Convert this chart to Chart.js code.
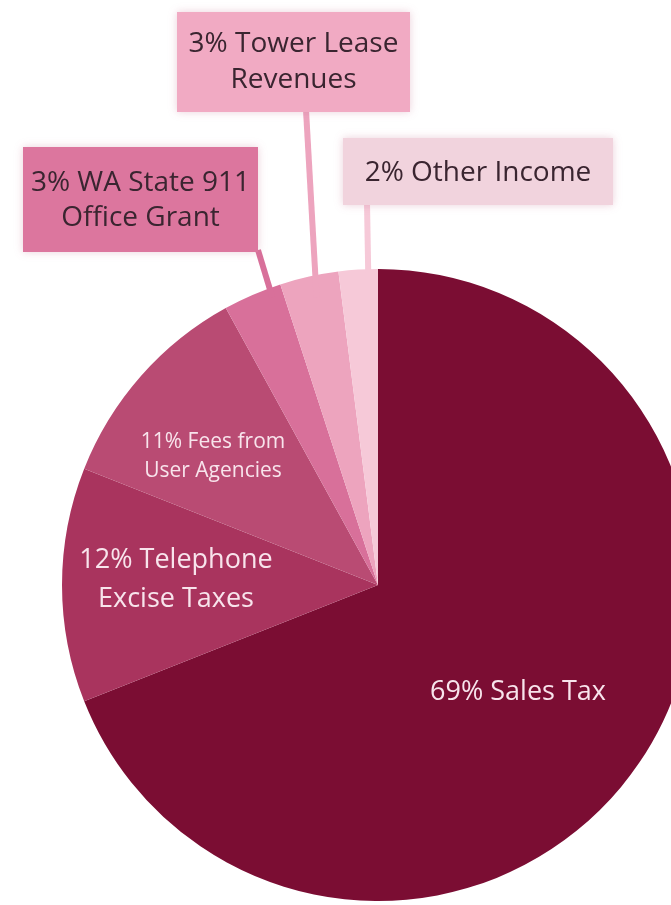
<!DOCTYPE html>
<html>
<head>
<meta charset="utf-8">
<script src="https://cdn.jsdelivr.net/npm/chart.js@4/dist/chart.umd.min.js"></script>
<style>
  html, body { margin: 0; padding: 0; background: #ffffff; overflow: hidden; width: 671px; height: 905px; }
  #wrap { position: absolute; left: 0; top: 0; width: 760px; height: 905px; }
</style>
</head>
<body>
<div id="wrap"><canvas id="c" width="760" height="905"></canvas></div>
<script>
// Revenue sources, clockwise from 12 o'clock
const categories = ['Sales Tax', 'Telephone Excise Taxes', 'Fees from User Agencies',
                    'WA State 911 Office Grant', 'Tower Lease Revenues', 'Other Income'];
const shares = [69, 12, 11, 3, 3, 2];
const sliceColors = ['#7b0d33', '#a9345e', '#b94b73', '#d8709a', '#eda4be', '#f6c9d8'];

// Text drawn on the pie and in the callout boxes
const labelLines = [
  ['69% Sales Tax'],
  ['12% Telephone', 'Excise Taxes'],
  ['11% Fees from', 'User Agencies'],
  ['3% WA State 911', 'Office Grant'],
  ['3% Tower Lease', 'Revenues'],
  ['2% Other Income']
];

const FONT = '"Open Sans", "Noto Sans", sans-serif';

// Inside labels: [index, centre x, first line y, line gap, font size]
const insideLabels = [
  [0, 518, 692, 0, 27],
  [1, 176, 560, 39, 27],
  [2, 213, 442, 29, 21]
];

// Callout boxes: [index, x, y, w, h, fill, text y, line gap, font size, line start x, anchor fraction, anchor radius]
const callouts = [
  [4, 177, 12, 233, 100, '#f1aac3', 44, 36, 28, 306, 0.55, 0.93],
  [3, 23, 147, 235, 105, '#dc769e', 183, 35, 28, 258, 0.8, 0.97],
  [5, 343, 138, 270, 67, '#f1d3dd', 173, 0, 28, 367, 0.75, 0.98]
];

const calloutPlugin = {
  id: 'calloutPlugin',
  afterDatasetsDraw(chart) {
    const ctx = chart.ctx;
    const arcs = chart.getDatasetMeta(0).data;

    // leader lines from each box down into its slice
    callouts.forEach(([i, x, y, w, h, fill, ty, gap, fs, lx, frac, rf]) => {
      const a = arcs[i];
      const ang = a.startAngle + (a.endAngle - a.startAngle) * frac;
      const r = a.outerRadius * rf;
      const ex = a.x + Math.cos(ang) * r;
      const ey = a.y + Math.sin(ang) * r;
      ctx.save();
      ctx.strokeStyle = sliceColors[i];
      ctx.lineWidth = 6;
      ctx.beginPath();
      ctx.moveTo(lx, y + h - 2);
      ctx.lineTo(ex, ey);
      ctx.stroke();
      ctx.restore();
    });

    // boxes and their text
    callouts.forEach(([i, x, y, w, h, fill, ty, gap, fs]) => {
      ctx.save();
      ctx.shadowColor = 'rgba(200,120,150,0.35)';
      ctx.shadowBlur = 8;
      ctx.fillStyle = fill;
      ctx.fillRect(x, y, w, h);
      ctx.restore();
      ctx.save();
      ctx.fillStyle = '#3a2530';
      ctx.font = fs + 'px ' + FONT;
      ctx.textAlign = 'center';
      ctx.textBaseline = 'middle';
      labelLines[i].forEach((t, k) => ctx.fillText(t, x + w / 2, ty + k * gap));
      ctx.restore();
    });

    // labels drawn on the slices
    insideLabels.forEach(([i, cx, cy, gap, fs]) => {
      ctx.save();
      ctx.fillStyle = '#f8e4ec';
      ctx.font = fs + 'px ' + FONT;
      ctx.textAlign = 'center';
      ctx.textBaseline = 'middle';
      labelLines[i].forEach((t, k) => ctx.fillText(t, cx, cy + k * gap));
      ctx.restore();
    });
  }
};

new Chart(document.getElementById('c'), {
  type: 'pie',
  data: {
    labels: categories,
    datasets: [{
      data: shares,
      backgroundColor: sliceColors,
      borderWidth: 0
    }]
  },
  options: {
    responsive: false,
    animation: false,
    layout: { padding: { left: 62, right: 66, top: 269, bottom: 4 } },
    plugins: {
      legend: { display: false },
      tooltip: { enabled: false }
    }
  },
  plugins: [calloutPlugin]
});
</script>
</body>
</html>
